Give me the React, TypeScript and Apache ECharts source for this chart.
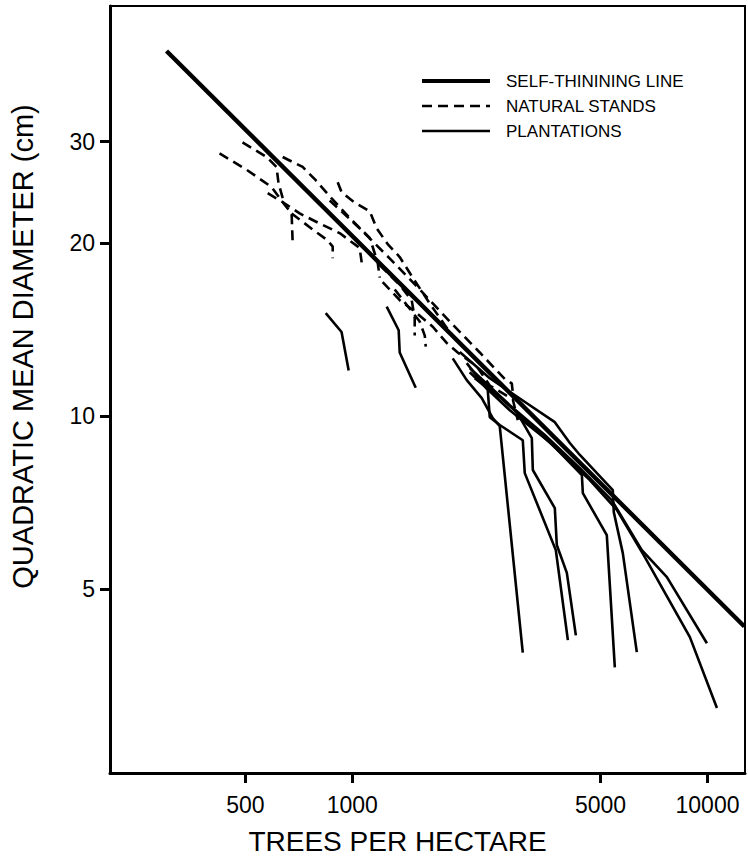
import React, { useEffect, useRef } from "react";
import * as echarts from "echarts";

const X_TICKS = [500, 1000, 5000, 10000];
const Y_TICKS = [5, 10, 20, 30];

const selfThinning = [[300, 43.1], [12700, 4.31]];

const natural1 = [[423, 28.6], [504, 26.8], [593, 25.0], [645, 23.3], [675, 22.5], [680, 19.8]];
const natural2 = [[491, 29.9], [574, 28.2], [612, 27.1], [620, 25.4], [645, 23.3]];
const natural3 = [[578, 24.4], [633, 23.6], [711, 22.5], [799, 21.7], [921, 20.8], [1049, 19.6], [1063, 18.5]];
const natural4 = [[675, 22.5], [774, 21.1], [853, 20.2], [881, 19.7], [881, 18.8]];
const natural5 = [[637, 28.2], [725, 27.1], [789, 25.7], [875, 23.9], [983, 22.1], [1120, 20.4], [1179, 18.5], [1195, 17.4]];
const natural6 = [[910, 25.5], [933, 24.5], [1016, 23.5], [1120, 22.7], [1172, 21.2], [1258, 19.9], [1360, 18.9], [1480, 17.4], [1652, 15.7], [1821, 14.4], [2007, 13.3]];
const natural7 = [[1218, 17.1], [1360, 15.9], [1480, 15.3], [1685, 14.3], [1844, 13.4], [1981, 12.9], [2241, 12.2], [2438, 11.3], [2830, 10.7], [2924, 9.84]];
const natural8 = [[864, 23.7], [1049, 21.2], [1274, 18.8], [1548, 16.6], [1881, 14.6], [2285, 12.9], [2687, 11.6], [2812, 11.4], [2830, 11.0]];
const natural9 = [[1195, 18.3], [1360, 16.9], [1470, 15.9], [1499, 14.8], [1499, 13.8]];
const natural10 = [[1317, 16.6], [1548, 14.6], [1600, 13.8], [1610, 13.2]];

const plantation1 = [[842, 15.1], [933, 14.0], [977, 12.0]];
const plantation2 = [[1250, 15.5], [1351, 14.1], [1360, 12.9], [1509, 11.2]];
const plantation3 = [[1918, 12.6], [2100, 11.55], [2315, 10.75], [2486, 9.92], [2601, 9.61], [3020, 3.88]];
const plantation4 = [[2100, 12.36], [2407, 11.1], [2438, 9.96], [2601, 9.65], [3020, 9.08], [3059, 7.96], [3741, 5.85], [4045, 4.08]];
const plantation5 = [[2212, 11.64], [2601, 10.79], [2905, 10.16], [3202, 9.16], [3223, 8.06], [3717, 6.92], [3765, 5.97], [4018, 5.34], [4260, 4.16]];
const plantation6 = [[2141, 11.92], [2776, 10.24], [3598, 9.01], [4429, 7.9], [4457, 7.35], [5206, 6.21], [5484, 3.66]];
const plantation7 = [[2007, 12.92], [2438, 11.64], [3100, 10.53], [3717, 9.76], [4097, 8.98], [4372, 8.56], [5412, 7.44], [5447, 6.81], [5775, 5.78], [6324, 3.89]];
const plantation8 = [[2141, 12.12], [2776, 10.45], [3483, 9.27], [4372, 8.12], [5378, 7.14], [6533, 5.85], [7686, 5.25], [9961, 4.03]];
const plantation9 = [[2285, 11.64], [2962, 10.04], [3717, 8.83], [4664, 7.74], [5555, 6.87], [6662, 5.69], [8920, 4.13], [10630, 3.11]];

const naturalStands = [natural1, natural2, natural3, natural4, natural5, natural6, natural7, natural8, natural9, natural10];
const plantations = [plantation1, plantation2, plantation3, plantation4, plantation5, plantation6, plantation7, plantation8, plantation9];

const LEGEND_LABELS = ["SELF-THININING LINE", "NATURAL STANDS", "PLANTATIONS"];

const FONT = '"Liberation Sans", Arial, Helvetica, sans-serif';
const DASH = [10, 6];

export default function App() {
  const ref = useRef<HTMLDivElement>(null);
  useEffect(() => {
    document.body.style.margin = "0";
    if (!ref.current) return;
    const chart = echarts.init(ref.current, null, { renderer: "svg" });
    const series: any[] = [];
    plantations.forEach((d) => {
      series.push({
        name: "PLANTATIONS",
        type: "line",
        data: d,
        symbol: "none",
        silent: true,
        lineStyle: { color: "#000", width: 2.6, type: "solid" },
        z: 2,
      });
    });
    naturalStands.forEach((d) => {
      series.push({
        name: "NATURAL STANDS",
        type: "line",
        data: d,
        symbol: "none",
        silent: true,
        lineStyle: { color: "#000", width: 2.6, type: DASH },
        z: 3,
      });
    });
    series.push({
      name: "SELF-THININING LINE",
      type: "line",
      data: selfThinning,
      symbol: "none",
      silent: true,
      lineStyle: { color: "#000", width: 4.4, type: "solid" },
      z: 4,
    });

    const legendY = [81, 106, 131];
    const legendStyles = [
      { lineWidth: 4.2, lineDash: null },
      { lineWidth: 2.6, lineDash: DASH },
      { lineWidth: 2.6, lineDash: null },
    ];
    const graphics: any[] = [];
    LEGEND_LABELS.forEach((label, i) => {
      graphics.push({
        type: "line",
        shape: { x1: 422, y1: legendY[i], x2: 490, y2: legendY[i] },
        style: { stroke: "#000", lineWidth: legendStyles[i].lineWidth, lineDash: legendStyles[i].lineDash },
        silent: true,
      });
      graphics.push({
        type: "text",
        x: 506,
        y: legendY[i],
        style: {
          text: label,
          fill: "#000",
          fontSize: 17,
          fontFamily: FONT,
          verticalAlign: "middle",
          align: "left",
        },
        silent: true,
      });
    });

    chart.setOption({
      animation: false,
      backgroundColor: "#fff",
      textStyle: { fontFamily: FONT },
      grid: {
        left: 110,
        right: 3,
        top: 6,
        bottom: 91,
        show: true,
        borderColor: "#000",
        borderWidth: 2,
        backgroundColor: "transparent",
        outerBoundsMode: "none",
      },
      xAxis: {
        type: "log",
        logBase: 10,
        min: 208,
        max: 12750,
        name: "TREES PER HECTARE",
        nameLocation: "middle",
        nameGap: 54,
        nameTextStyle: { fontSize: 28, color: "#000", fontFamily: FONT, padding: [0, 60, 0, 0] },
        axisLine: { show: true, lineStyle: { color: "#000", width: 3 } },
        axisTick: { show: true, customValues: X_TICKS, length: 10, lineStyle: { color: "#000", width: 3 } },
        minorTick: { show: false },
        axisLabel: {
          customValues: X_TICKS,
          formatter: (v: number) => String(Math.round(v)),
          fontSize: 23,
          color: "#000",
          fontFamily: FONT,
          margin: 20,
        },
        splitLine: { show: false },
      },
      yAxis: {
        type: "log",
        logBase: 10,
        min: 2.398,
        max: 51.6,
        name: "QUADRATIC MEAN DIAMETER (cm)",
        nameLocation: "middle",
        nameGap: 73,
        nameTextStyle: { fontSize: 29, color: "#000", fontFamily: FONT, padding: [0, 0, 0, 86] },
        axisLine: { show: true, lineStyle: { color: "#000", width: 3 } },
        axisTick: { show: true, customValues: Y_TICKS, length: 10, lineStyle: { color: "#000", width: 3 } },
        minorTick: { show: false },
        axisLabel: {
          customValues: Y_TICKS,
          formatter: (v: number) => String(Math.round(v)),
          fontSize: 23,
          color: "#000",
          fontFamily: FONT,
          margin: 15,
        },
        splitLine: { show: false },
      },
      graphic: graphics,
      series,
    });
    return () => chart.dispose();
  }, []);
  return <div ref={ref} style={{ width: 748, height: 864, position: "absolute", left: 0, top: 0 }} />;
}
